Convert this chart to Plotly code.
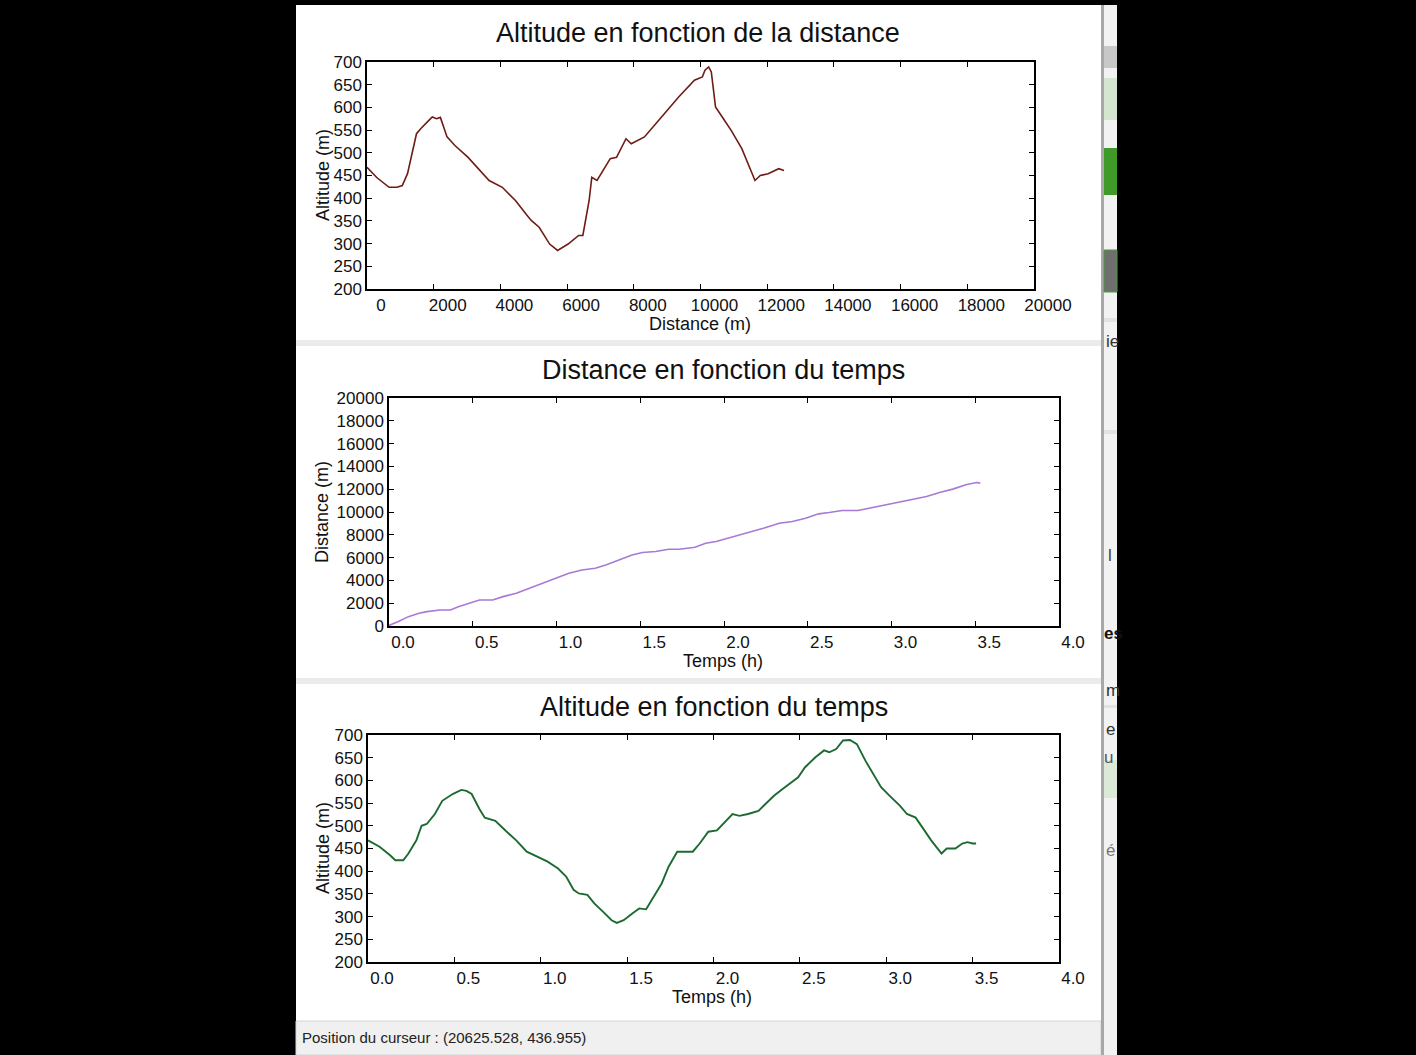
import plotly.graph_objects as go

W, H = 1416, 1055

# ---- data: Altitude vs distance ----
dist_m = [0, 300, 663, 900, 1058, 1215, 1484, 1610, 1847, 1957, 2084, 2200, 2400, 2636, 3031,
          3662, 4057, 4451, 4767, 4925, 5162, 5477, 5714, 6030, 6346, 6472, 6661, 6740, 6898,
          7293, 7482, 7766, 7924, 8319, 8871, 9345, 9818, 10055, 10134, 10245, 10324, 10450,
          10687, 10924, 11239, 11634, 11792, 12029, 12345, 12503]
alt_d = [468, 445, 424, 424, 428, 454, 542, 553, 571, 579, 575, 578, 535, 516, 490,
         439, 424, 395, 365, 351, 336, 299, 285, 299, 318, 318, 395, 446, 439,
         487, 490, 531, 520, 535, 582, 623, 660, 667, 682, 689, 678, 601,
         575, 549, 509, 439, 450, 454, 465, 461]

# ---- data: Distance vs time ----
t_dist = [0.0, 0.006, 0.053, 0.116, 0.179, 0.226, 0.305, 0.367, 0.414, 0.477, 0.54, 0.619, 0.681,
          0.76, 0.838, 0.917, 0.995, 1.074, 1.152, 1.231, 1.294, 1.372, 1.451, 1.513, 1.592,
          1.670, 1.733, 1.827, 1.890, 1.953, 2.047, 2.141, 2.235, 2.330, 2.408, 2.487, 2.565,
          2.628, 2.706, 2.80, 2.895, 2.973, 3.052, 3.130, 3.209, 3.287, 3.366, 3.444, 3.507, 3.53]
dist_t = [0, 88, 380, 820, 1113, 1259, 1406, 1406, 1698, 1991, 2284, 2284, 2577,
          2870, 3309, 3748, 4187, 4627, 4919, 5066, 5359, 5798, 6237, 6442, 6530,
          6735, 6735, 6911, 7262, 7408, 7789, 8199, 8580, 9019, 9165, 9458, 9839,
          9956, 10132, 10132, 10425, 10630, 10922, 11127, 11362, 11713, 12006, 12387, 12591, 12533]

# ---- data: Altitude vs time ----
t_alt = [0.0, 0.067, 0.128, 0.158, 0.204, 0.234, 0.28, 0.31, 0.34, 0.387, 0.43, 0.49, 0.54, 0.57,
         0.6, 0.645, 0.676, 0.737, 0.797, 0.858, 0.919, 0.98, 1.04, 1.10, 1.147, 1.19, 1.22, 1.27,
         1.31, 1.36, 1.41, 1.44, 1.48, 1.53, 1.57, 1.61, 1.65, 1.70, 1.74, 1.79, 1.83, 1.88, 1.92,
         1.97, 2.02, 2.06, 2.11, 2.15, 2.20, 2.26, 2.30, 2.35, 2.40, 2.44, 2.49, 2.53, 2.59, 2.64,
         2.67, 2.71, 2.75, 2.79, 2.83, 2.88, 2.93, 2.97, 3.02, 3.08, 3.12, 3.17, 3.21, 3.26, 3.32,
         3.35, 3.40, 3.44, 3.47, 3.50, 3.52]
alt_t = [468, 454, 435, 424, 424, 439, 468, 500, 504, 526, 555, 570, 579, 577,
         570, 537, 518, 511, 489, 468, 443, 432, 421, 406, 388, 359, 351, 348,
         329, 311, 292, 286, 292, 307, 318, 316, 340, 373, 410, 443, 443, 443, 461,
         487, 490, 505, 526, 522, 526, 533, 548, 566, 581, 592, 607, 629, 651, 666,
         662, 669, 688, 689, 680, 643, 610, 585, 566, 544, 526, 518, 496, 468, 439,
         450, 450, 461, 464, 461, 461]

# ---- text ----
titles = ["Altitude en fonction de la distance", "Distance en fonction du temps",
          "Altitude en fonction du temps"]
xlabels = ["Distance (m)", "Temps (h)", "Temps (h)"]
ylabels = ["Altitude (m)", "Distance (m)", "Altitude (m)"]
status_text = "Position du curseur : (20625.528, 436.955)"
side_fragments = ["ie", "l", "es", "m", "e", "u", "é"]

FONT = "Liberation Sans, Arial, sans-serif"

def px(x):
    return x / W

def py(y):
    return 1 - y / H

fig = go.Figure()
fig.add_trace(go.Scatter(x=dist_m, y=alt_d, mode="lines", line=dict(color="#6e1c14", width=1.6),
                         xaxis="x", yaxis="y", showlegend=False, hoverinfo="skip"))
fig.add_trace(go.Scatter(x=t_dist, y=dist_t, mode="lines", line=dict(color="#a67ad6", width=1.6),
                         xaxis="x2", yaxis="y2", showlegend=False, hoverinfo="skip"))
fig.add_trace(go.Scatter(x=t_alt, y=alt_t, mode="lines", line=dict(color="#1d6a30", width=1.9),
                         xaxis="x3", yaxis="y3", showlegend=False, hoverinfo="skip"))

frames = [  # left, right, top, bottom in pixels
    (367, 1034, 62, 289),
    (389, 1059, 398, 626),
    (368, 1059, 735, 962),
]

axcommon = dict(showline=True, linecolor="black", linewidth=1.5, mirror="ticks",
                ticks="inside", ticklen=5, tickwidth=1.2, tickcolor="black",
                showgrid=False, zeroline=False, automargin=False,
                tickfont=dict(family=FONT, size=17, color="#111"))

layout = dict(template="none", width=W, height=H, autosize=False,
              margin=dict(l=0, r=0, t=0, b=0, pad=0, autoexpand=False),
              paper_bgcolor="black", plot_bgcolor="white", showlegend=False,
              font=dict(family=FONT, color="#111"))

xranges = [[0, 20000], [0, 4.0], [0, 4.0]]
xdticks = [2000, 0.5, 0.5]
xfmts = ["d", ".1f", ".1f"]
yranges = [[200, 700], [0, 20000], [200, 700]]
ydticks = [50, 2000, 50]

for i, (l, r, t, b) in enumerate(frames):
    sfx = "" if i == 0 else str(i + 1)
    layout["xaxis" + sfx] = dict(axcommon, domain=[px(l), px(r)], range=xranges[i],
                                 dtick=xdticks[i], tick0=0, tickformat=xfmts[i],
                                 anchor="y" + sfx, ticklabelshift=14)
    layout["yaxis" + sfx] = dict(axcommon, domain=[py(b), py(t)], range=yranges[i],
                                 dtick=ydticks[i], tick0=0, tickformat="d",
                                 anchor="x" + sfx)

fig.update_layout(**layout)

def rect(x0, x1, y0, y1, fill, line=None):
    return dict(type="rect", xref="paper", yref="paper", x0=px(x0), x1=px(x1),
                y0=py(y1), y1=py(y0), fillcolor=fill,
                line=line if line else dict(width=0), layer="below")

# window decoration
shapes = [
    rect(296, 1101, 5, 1055, "white"),
    rect(296, 1101, 340, 346, "#ebebeb"),
    rect(296, 1101, 678, 684, "#ebebeb"),
    rect(296, 1101, 1021, 1055, "#f0f0f0", dict(color="#d6d6d6", width=1)),
    rect(1101, 1104, 5, 1055, "#a8a8a8"),
    rect(1104, 1117, 5, 1055, "#f2f2f2"),
    rect(1104, 1117, 46, 68, "#c8c8c8"),
    rect(1104, 1117, 78, 120, "#d4e6cf"),
    rect(1104, 1117, 148, 195, "#3f9a2a"),
    rect(1104, 1117, 250, 292, "#6f6f6f", dict(color="#4a9a3a", width=1)),
    rect(1104, 1117, 760, 798, "#dde9d8"),
    rect(1104, 1117, 318, 322, "#e2e2e2"),
    rect(1104, 1117, 430, 434, "#e2e2e2"),
    rect(1104, 1117, 705, 708, "#e2e2e2"),
]
fig.update_layout(shapes=shapes)

ann = []
title_pos = [(698, 33), (723, 370), (714, 707)]
xlab_pos = [(700, 324), (723, 661), (712, 997)]
ylab_pos = [(323, 175), (322, 512), (323, 848)]
for i in range(3):
    ann.append(dict(text=titles[i], x=px(title_pos[i][0]), y=py(title_pos[i][1]), xref="paper",
                    yref="paper", showarrow=False, xanchor="center", yanchor="middle",
                    font=dict(family=FONT, size=27, color="#111")))
    ann.append(dict(text=xlabels[i], x=px(xlab_pos[i][0]), y=py(xlab_pos[i][1]), xref="paper",
                    yref="paper", showarrow=False, xanchor="center", yanchor="middle",
                    font=dict(family=FONT, size=18, color="#111")))
    ann.append(dict(text=ylabels[i], x=px(ylab_pos[i][0]), y=py(ylab_pos[i][1]), xref="paper",
                    yref="paper", showarrow=False, xanchor="center", yanchor="middle",
                    textangle=-90, font=dict(family=FONT, size=18, color="#111")))
ann.append(dict(text=status_text, x=px(300), y=py(1037), xref="paper", yref="paper",
                showarrow=False, xanchor="left", yanchor="middle",
                font=dict(family=FONT, size=15, color="#222")))

frag_pos = [(1104, 341), (1106, 555), (1102, 633), (1104, 690), (1104, 729), (1102, 757), (1104, 850)]
frag_col = ["#333", "#444", "#111", "#333", "#333", "#556", "#777"]
for txt, (fx, fy), col in zip(side_fragments, frag_pos, frag_col):
    ann.append(dict(text=("<b>%s</b>" % txt) if txt == "es" else txt, x=px(fx), y=py(fy),
                    xref="paper", yref="paper", showarrow=False, xanchor="left",
                    yanchor="middle", font=dict(family=FONT, size=17, color=col)))
fig.update_layout(annotations=ann)

fig.write_html("out.html", config={"displayModeBar": False},
               post_script="document.body.style.margin='0';document.body.style.padding='0';"
                           "document.body.style.overflow='hidden';"
                           "document.documentElement.style.overflow='hidden';")
